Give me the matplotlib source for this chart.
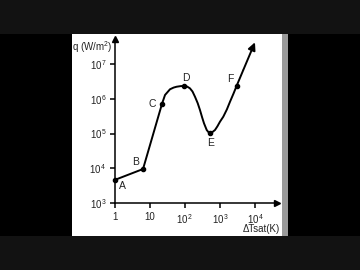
import matplotlib
matplotlib.use("Agg")
import matplotlib.pyplot as plt
from matplotlib.patches import Rectangle
from matplotlib.ticker import FixedLocator, FixedFormatter, NullLocator

plt.rcParams['font.family'] = ['Liberation Sans', 'DejaVu Sans']
plt.rcParams['mathtext.fontset'] = 'custom'
plt.rcParams['mathtext.rm'] = 'Liberation Sans'
plt.rcParams['mathtext.it'] = 'Liberation Sans:italic'

# ---- data ----
curve_dT = [1, 6.3, 21.9, 26.7, 37, 47, 57.4, 75, 94.6, 115, 137, 162, 191, 228, 265, 305,
            345, 412, 460, 512, 600, 710, 830, 986, 1225, 1550, 1900, 2400, 2950, 4550, 9800]
curve_q = [4.7e3, 9.6e3, 7.1e5, 1.27e6, 1.85e6, 2.07e6, 2.19e6, 2.28e6, 2.3e6, 2.2e6, 1.97e6,
           1.6e6, 1.13e6, 7.4e5, 4.7e5, 2.9e5, 1.96e5, 1.26e5, 1.1e5, 1.05e5, 1.1e5, 1.26e5,
           1.6e5, 2.18e5, 3.03e5, 4.9e5, 8.1e5, 1.4e6, 2.34e6, 6.6e6, 4.1e7]
point_names = ['A', 'B', 'C', 'D', 'E', 'F']
point_dT = [1, 6.3, 21.9, 94.6, 512, 2950]
point_q = [4.7e3, 9.6e3, 7.1e5, 2.3e6, 1.05e5, 2.34e6]
label_offsets = [(5.5, -4.5), (-5.5, 5), (-7, 0), (0.8, 6), (0.5, -7.5), (-4.5, 5)]
x_ticks = [1, 10, 100, 1000, 10000]
x_tick_labels = ['1', '10', r'$\mathregular{10^{\,2}}$', r'$\mathregular{10^{\,3}}$', r'$\mathregular{10^{\,4}}$']
y_ticks = [1e3, 1e4, 1e5, 1e6, 1e7]
y_tick_labels = [r'$\mathregular{10^{\,3}}$', r'$\mathregular{10^{\,4}}$', r'$\mathregular{10^{\,5}}$',
                 r'$\mathregular{10^{\,6}}$', r'$\mathregular{10^{\,7}}$']

W, H = 360, 270
fig = plt.figure(figsize=(W / 100, H / 100), dpi=100, facecolor='#121212')

def frect(x0, y0, x1, y1, color):
    fig.patches.append(Rectangle((x0 / W, 1 - y1 / H), (x1 - x0) / W, (y1 - y0) / H,
                                 transform=fig.transFigure, color=color, zorder=-10, lw=0))

frect(0, 34, 71.5, 235.5, '#000000')
frect(288, 34, 360, 235.5, '#000000')
frect(71.5, 34, 282, 235.5, '#ffffff')
frect(282, 34, 288, 235.5, '#9a9a9a')

x0, xend = 115, 277
y0, ytop = 203.3, 39.3
dec_x, dec_y = 35.07, 34.9
ax = fig.add_axes([x0 / W, 1 - y0 / H, (xend - x0) / W, (y0 - ytop) / H])
ax.set_zorder(5)
ax.set_facecolor('none')
ax.set_xscale('log')
ax.set_yscale('log')
ax.set_xlim(1, 10 ** ((xend - x0) / dec_x))
ax.set_ylim(1e3, 10 ** (3 + (y0 - ytop) / dec_y))

for s in ['top', 'right']:
    ax.spines[s].set_visible(False)
for s in ['left', 'bottom']:
    ax.spines[s].set_linewidth(1.1)
    ax.spines[s].set_color('black')

ax.xaxis.set_major_locator(FixedLocator(x_ticks))
ax.xaxis.set_major_formatter(FixedFormatter(x_tick_labels))
ax.yaxis.set_major_locator(FixedLocator(y_ticks))
ax.yaxis.set_major_formatter(FixedFormatter(y_tick_labels))
ax.xaxis.set_minor_locator(NullLocator())
ax.yaxis.set_minor_locator(NullLocator())
ax.tick_params(axis='both', which='major', direction='out', length=3.8, width=1.1,
               labelsize=7, color='black', labelcolor='#222222')
ax.tick_params(axis='x', pad=2.5)
ax.tick_params(axis='y', pad=2)

# axis arrows
ax.plot([1], [ax.get_ylim()[1]], marker='^', color='black', markersize=4.5, clip_on=False, zorder=5)
ax.plot([ax.get_xlim()[1]], [1e3], marker='>', color='black', markersize=4.5, clip_on=False, zorder=5)

# curve
ax.plot(curve_dT[:-1], curve_q[:-1], color='black', lw=1.4, solid_capstyle='butt',
        solid_joinstyle='round', clip_on=False, zorder=3)
ax.annotate('', xy=(curve_dT[-1], curve_q[-1]), xytext=(curve_dT[-2], curve_q[-2]),
            arrowprops=dict(arrowstyle='-|>,head_length=0.45,head_width=0.22', color='black',
                            lw=1.4, shrinkA=0, shrinkB=0), annotation_clip=False)
ax.plot(point_dT, point_q, 'o', color='black', markersize=3, zorder=4, clip_on=False)

for name, xv, yv, off in zip(point_names, point_dT, point_q, label_offsets):
    ax.annotate(name, (xv, yv), xytext=off, textcoords='offset points', ha='center', va='center',
                fontsize=7.5, color='#222222', annotation_clip=False)

fig.text(71.5 / W, 1 - 46.7 / H, 'q (W/m$^{2}$)', ha='left', va='center', fontsize=7, color='#222222')
fig.text(280 / W, 1 - 229.5 / H, 'ΔTsat(K)', ha='right', va='center', fontsize=7, color='#222222')

fig.savefig('out.png', dpi=100, facecolor=fig.get_facecolor())
